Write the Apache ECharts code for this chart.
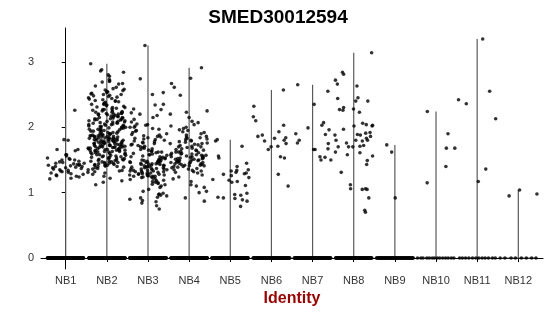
<!DOCTYPE html>
<html>
<head>
<meta charset="utf-8">
<script src="https://cdn.jsdelivr.net/npm/echarts@6/dist/echarts.min.js"></script>
<style>html,body{margin:0;padding:0;background:#fff}#c{width:550px;height:316px}</style>
</head>
<body>
<div id="c"></div>
<script>
var categories = ['NB1','NB2','NB3','NB4','NB5','NB6','NB7','NB8','NB9','NB10','NB11','NB12'];
var yTicks = [0, 1, 2, 3];

// number of cells with zero expression per identity (estimated)
var zeroCounts = [180, 180, 180, 180, 180, 120, 120, 120, 90, 14, 12, 8];

// non-zero expression values per identity
var nb1 = [2.26,1.80,1.81,1.66,1.66,1.64,1.58,1.58,1.56,1.53,1.52,1.51,1.50,1.48,1.47,1.46,1.45,1.45,1.44,1.43,1.42,1.42,1.41,1.40,1.40,1.39,1.38,1.37,1.36,1.35,1.34,1.33,1.32,1.31,1.30,1.29,1.28,1.27,1.26,1.25,1.24,1.22,1.21,1.38,1.43,1.50];
var nb2 = [2.97,2.88,2.86,2.84,2.80,2.78,2.73,2.71,2.70,2.69,2.67,2.66,2.63,2.61,2.59,2.58,2.57,2.56,
2.55,2.54,2.53,2.52,2.51,2.50,2.50,2.49,2.48,2.47,2.46,2.45,2.44,2.43,2.42,2.41,2.40,2.40,2.39,2.38,2.37,2.36,2.35,2.35,2.34,2.33,2.32,2.31,2.30,2.30,2.29,2.28,2.27,2.27,2.26,2.25,2.25,2.24,2.23,2.23,2.22,2.22,2.21,2.21,2.20,2.20,2.20,2.19,2.19,2.18,
2.17,2.17,2.16,2.16,2.15,2.15,2.14,2.14,2.13,2.13,2.12,2.12,2.11,2.11,2.10,2.10,2.09,2.09,2.08,2.08,2.07,2.07,2.06,2.06,2.05,2.05,2.04,2.04,2.03,2.03,2.02,2.02,2.01,2.01,2.00,2.00,2.00,1.99,1.99,1.98,1.98,1.97,1.97,1.96,1.96,1.95,1.95,1.94,1.94,1.93,1.93,1.92,1.92,1.91,1.91,
1.90,1.90,1.89,1.89,1.88,1.88,1.88,1.87,1.87,1.87,1.86,1.86,1.86,1.85,1.85,1.85,1.84,1.84,1.84,1.83,1.83,1.83,1.82,1.82,1.82,1.81,1.81,1.81,1.80,1.80,1.80,1.80,1.79,1.79,1.79,1.78,1.78,1.78,1.77,1.77,1.77,1.76,1.76,1.76,1.75,1.75,1.75,1.74,1.74,1.74,1.73,1.73,1.73,1.72,1.72,1.72,1.71,1.71,1.71,1.70,1.70,1.70,1.70,1.69,1.69,1.69,1.68,1.68,1.68,1.67,1.67,1.67,1.66,1.66,1.66,1.65,1.65,1.65,1.64,1.64,1.64,1.63,1.63,1.63,1.62,1.62,1.61,1.61,1.60,1.60,1.59,1.59,1.58,1.58,1.57,1.57,1.56,1.56,1.55,1.55,1.54,1.54,1.53,1.53,1.52,1.52,1.51,1.51,1.50,1.50,
1.49,1.49,1.48,1.48,1.47,1.47,1.46,1.46,1.45,1.45,1.44,1.44,1.43,1.43,1.42,1.42,1.41,1.41,1.40,1.40,1.39,1.38,1.37,1.36,1.35,1.34,1.33,1.32,1.31,1.30,
1.28,1.25,1.22,1.18,1.16,1.12];
var nb3 = [3.25,2.74,2.53,2.50,2.35,2.34,2.28,2.27,2.22,2.20,2.18,2.15,2.12,2.08,2.05,2.04,2.03,2.02,2.00,2.00,1.98,1.97,1.95,1.94,1.92,1.90,1.89,1.88,1.87,1.86,1.85,1.84,1.83,1.82,1.81,1.80,
1.79,1.78,1.77,1.76,1.75,1.74,1.73,1.72,1.71,1.70,1.69,1.68,1.67,1.66,1.65,1.64,1.63,1.62,1.61,1.60,1.59,1.58,1.57,1.56,1.55,1.54,1.53,1.52,1.51,1.50,1.49,1.48,1.47,1.46,1.45,1.44,1.43,1.42,1.41,1.40,
1.50,1.49,1.48,1.47,1.46,1.45,1.44,1.43,1.42,1.41,1.40,1.39,1.39,1.38,1.38,1.37,1.37,1.36,1.36,1.35,1.35,1.34,1.34,1.33,1.33,1.32,1.32,1.31,1.31,1.30,1.30,1.29,1.29,1.28,1.28,1.27,1.27,1.26,1.26,1.25,1.25,1.24,1.24,1.23,1.22,1.21,1.20,1.19,1.18,1.17,1.16,1.15,1.14,1.13,1.12,1.10,1.08,1.05,1.02,
1.62,1.58,1.55,1.52,1.47,1.44,1.36,1.33,1.28,1.25,
0.99,0.98,0.97,0.96,0.95,0.93,0.92,0.90,0.88,0.86,0.84,0.80,0.75];
var nb4 = [2.91,2.75,2.67,2.61,2.49,2.25,2.23,2.20,2.15,2.09,2.07,2.04,2.02,2.00,1.98,1.96,1.95,1.93,1.92,1.90,1.88,1.86,
1.85,1.84,1.83,1.82,1.81,1.80,1.79,1.78,1.77,1.76,1.75,1.75,1.74,1.73,1.72,1.71,1.70,1.70,1.69,1.68,1.67,1.66,1.65,1.65,1.64,1.63,1.62,1.62,1.61,1.60,1.60,1.59,1.59,1.58,1.58,1.57,1.57,1.56,1.56,1.55,1.55,1.54,1.54,1.53,1.53,1.52,1.52,1.51,1.51,1.50,1.50,1.49,1.49,1.48,1.48,1.47,1.47,1.46,1.46,1.45,1.45,1.44,1.44,1.43,1.43,1.42,1.42,1.41,1.41,1.40,1.40,1.39,1.38,1.37,1.36,1.35,1.34,1.33,1.32,1.31,1.30,
1.27,1.24,1.21,1.17,1.12,1.10,1.08,1.02,1.00,0.92,0.87];
var nb5 = [1.81,1.79,1.71,1.53,1.56,1.40,1.45,1.34,1.35,1.29,1.26,1.30,1.33,1.28,1.17,1.16,1.19,1.20,1.11,0.99,0.97,0.96,0.91,0.79,0.89,0.92,0.93,0.87,1.23,1.31];
var nb6 = [2.57,2.32,2.16,2.03,2.10,1.88,1.86,1.71,1.66,1.55,1.53,1.93,1.84,1.70,1.80,1.79,1.75,1.28,1.10,1.83];
var nb7 = [2.65,2.55,2.35,2.07,1.99,2.03,1.90,1.89,1.96,1.80,1.75,1.76,1.66,1.67,1.66,1.55,1.54,1.50,1.50];
var nb8 = [3.14,2.84,2.81,2.72,2.66,2.63,2.40,2.40,2.44,2.45,2.30,2.28,2.27,2.26,2.23,2.02,2.03,2.06,2.04,2.02,1.97,1.89,1.86,1.88,1.91,1.88,1.92,1.80,1.83,1.71,1.70,1.70,1.76,1.72,1.70,1.80,1.80,1.79,1.61,1.62,1.56,1.58,1.49,1.43,1.31,1.12,1.05,1.06,1.06,1.05,0.92,0.73,0.70];
var nb9 = [1.73,1.62,0.92];
var nb10 = [1.68,1.68,1.90,2.24,1.15,1.40];
var nb11 = [2.42,2.36,1.36,2.55,2.13,1.17,3.35];
var nb12 = [0.95,1.04,0.98];

var groups = [nb1, nb2, nb3, nb4, nb5, nb6, nb7, nb8, nb9, nb10, nb11, nb12];

// deterministic jitter offset (horizontal layout only, hash of point index)
function jit(k, seed) {
  var s = Math.sin(k * 12.9898 + seed * 78.233) * 43758.5453;
  var f = s - Math.floor(s);
  return (f * 2 - 1) * 0.46;
}

var points = [];
var violins = [];
groups.forEach(function (vals, i) {
  vals.forEach(function (v, k) { points.push([i + jit(k + 1, i + 1), v]); });
  for (var z = 0; z < zeroCounts[i]; z++) points.push([i + (z / (zeroCounts[i] - 1) * 2 - 1) * 0.44 + jit(z + 7, i + 20) * 0.03, 0]);
  violins.push([i, Math.max.apply(null, vals)]);
});

var chart = echarts.init(document.getElementById('c'));
var font = 'Liberation Sans, Arial, Helvetica, sans-serif';
chart.setOption({
  animation: false,
  title: {
    text: 'SMED30012594', left: 273, top: 3, textAlign: 'center',
    textStyle: { fontFamily: font, fontSize: 19, fontWeight: 'bold', color: '#000' }
  },
  grid: { left: 41, right: 7, top: 28, bottom: 47, containLabel: false },
  xAxis: {
    type: 'value', min: -0.6, max: 11.6,
    name: 'Identity', nameLocation: 'middle', nameGap: 20,
    nameTextStyle: { fontFamily: font, fontSize: 16, fontWeight: 'bold', color: '#990000' },
    axisLine: { show: true, lineStyle: { color: '#000', width: 1 } },
    axisTick: { show: true, length: 4, customValues: categories.map(function (c, i) { return i; }), lineStyle: { color: '#000' } },
    axisLabel: { customValues: categories.map(function (c, i) { return i; }), margin: 6,
      formatter: function (v) { return categories[Math.round(v)]; },
      fontFamily: font, fontSize: 11, color: '#333' },
    splitLine: { show: false }
  },
  yAxis: {
    type: 'value', min: -0.1675, max: 3.5175,
    axisLine: { show: true, lineStyle: { color: '#000', width: 1 } },
    axisTick: { show: true, length: 4, customValues: yTicks, lineStyle: { color: '#000' } },
    axisLabel: { customValues: yTicks, margin: 7, fontFamily: font, fontSize: 11, color: '#333' },
    splitLine: { show: false }
  },
  series: [
    {
      type: 'custom', z: 1, silent: true,
      data: violins,
      renderItem: function (params, api) {
        var i = api.value(0), top = api.value(1);
        var p0 = api.coord([i, 0]), p1 = api.coord([i, top]);
        var l = api.coord([i - 0.45, 0]), r = api.coord([i + 0.45, 0]);
        return {
          type: 'group', children: [
            { type: 'line', shape: { x1: p0[0], y1: p0[1], x2: p1[0], y2: p1[1] }, style: { stroke: '#5a5a5a', lineWidth: 1.2 } },
            { type: 'line', shape: { x1: l[0], y1: l[1], x2: r[0], y2: r[1] }, style: { stroke: '#444', lineWidth: 1 } }
          ]
        };
      }
    },
    {
      type: 'scatter', z: 3, silent: true,
      data: points, symbol: 'circle', symbolSize: 3.6,
      itemStyle: { color: '#000' }
    }
  ]
});
</script>
</body>
</html>
